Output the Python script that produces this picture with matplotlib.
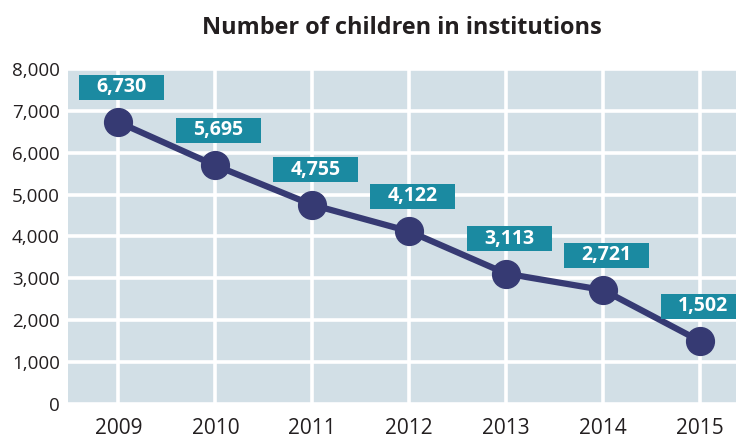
import numpy as np
from matplotlib import pyplot as plt
import matplotlib.transforms as mtransforms
from matplotlib.patches import Rectangle

# children in institutions per year
years = ["2009", "2010", "2011", "2012", "2013", "2014", "2015"]
children = [6730, 5695, 4755, 4122, 3113, 2721, 1502]

plt.rcParams['font.family'] = ['Open Sans', 'DejaVu Sans']

fig = plt.figure(figsize=(7.36, 4.38), dpi=100)
ax = fig.add_axes([0.0924, 0.0776, 0.9076, 0.765])

x = np.arange(len(years))
ax.set_facecolor("#d2dfe6")
ax.set_xlim(-0.52, len(years) - 1 + 0.37)
ax.set_ylim(0, 8000)
ax.set_yticks(np.arange(0, 8001, 1000))
ax.set_yticklabels([f"{v:,}" for v in range(0, 8001, 1000)])
ax.set_xticks(x)
ax.set_xticklabels(years)
ax.grid(True, color="white", linewidth=2.6)
ax.set_axisbelow(True)
for s in ax.spines.values():
    s.set_visible(False)
ax.tick_params(length=0, colors="#231f20")
ax.tick_params(axis="y", pad=6, labelsize=13.5)
ax.tick_params(axis="x", pad=10, labelsize=15)

ax.plot(x, children, color="#363a73", linewidth=4.5, marker="o",
        markersize=20, zorder=3, solid_capstyle="round")

# value boxes: fixed size in inches, placed above each point
bw, bh = 0.85, 0.25
for xi, v in zip(x, children):
    trans = fig.dpi_scale_trans + mtransforms.ScaledTranslation(xi, v, ax.transData)
    ax.add_patch(Rectangle((0.03 - bw / 2, 0.35 - bh / 2), bw, bh, transform=trans,
                           fc="#1b8aa1", ec="none", zorder=4, clip_on=False))
    ax.text(0.03, 0.35, f"{v:,}", transform=trans, ha="center", va="center",
            color="white", fontsize=14, fontweight="bold", zorder=5)

fig.text(0.546, 0.935, "Number of children in institutions", ha="center",
         va="center", fontsize=16.9, fontweight="bold", color="#231f20")

fig.savefig("out.png", dpi=100)
